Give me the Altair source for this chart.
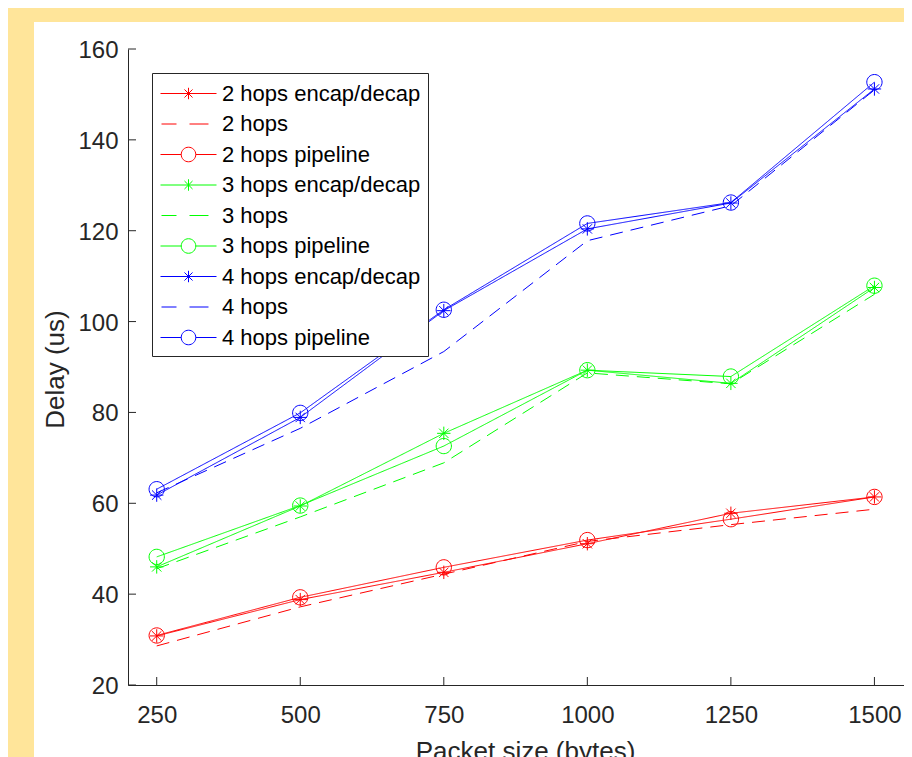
import altair as alt
import pandas as pd

# ---------------- data ----------------
packet_sizes = [250, 500, 750, 1000, 1250, 1500]
y_ticks = [20, 40, 60, 80, 100, 120, 140, 160]

series_names = [
    "2 hops encap/decap", "2 hops", "2 hops pipeline",
    "3 hops encap/decap", "3 hops", "3 hops pipeline",
    "4 hops encap/decap", "4 hops", "4 hops pipeline",
]
series_kind = ["encap", "plain", "pipeline"] * 3

hops2_encap = [30.8, 38.8, 44.8, 51.1, 57.8, 61.4]
hops2_plain = [28.6, 37.2, 44.4, 51.6, 55.3, 58.7]
hops2_pipe = [30.9, 39.3, 45.9, 51.9, 56.5, 61.4]
hops3_encap = [46.0, 59.4, 75.4, 89.3, 86.4, 107.5]
hops3_plain = [45.6, 57.0, 68.9, 88.7, 86.3, 106.0]
hops3_pipe = [48.2, 59.5, 72.6, 89.3, 87.9, 107.9]
hops4_encap = [61.8, 78.9, 102.4, 120.4, 126.1, 151.2]
hops4_plain = [62.3, 76.5, 93.4, 117.8, 125.5, 151.0]
hops4_pipe = [63.1, 79.9, 102.6, 121.6, 126.2, 152.7]

series_values = [hops2_encap, hops2_plain, hops2_pipe,
                 hops3_encap, hops3_plain, hops3_pipe,
                 hops4_encap, hops4_plain, hops4_pipe]

rows = []
for name, kind, vals in zip(series_names, series_kind, series_values):
    for x, v in zip(packet_sizes, vals):
        rows.append({"series": name, "kind": kind, "size": x, "delay": v})
df = pd.DataFrame(rows)

# ---------------- styles ----------------
series_colors = ["#FF0000"] * 3 + ["#00FF00"] * 3 + ["#0000FF"] * 3
FONT = "Liberation Sans"
AX = "#262626"
W, H = 776, 636
TICK = 8

STAR = "M0,-0.67V0.67M-0.67,0H0.67M-0.47,-0.47L0.47,0.47M-0.47,0.47L0.47,-0.47"
CIRC = "M-0.765,0A0.765,0.765 0 1,0 0.765,0A0.765,0.765 0 1,0 -0.765,0"

# legend symbols (unit r = 13px)
L, R, M, a, d, c = -0.923, 3.385, 1.231, 0.44, 0.31, 0.56
LEG_ENCAP = (f"M{L},0H{R}M{M},{-a}V{a}M{M-d:.3f},{-d}L{M+d:.3f},{d}"
             f"M{M-d:.3f},{d}L{M+d:.3f},{-d}")
LEG_PLAIN = "M-0.846,0H0.308M1.308,0H2.769"
LEG_PIPE = (f"M{L},0H{M-c:.3f}M{M+c:.3f},0H{R}"
            f"M{M-c:.3f},0A{c},{c} 0 1,0 {M+c:.3f},0A{c},{c} 0 1,0 {M-c:.3f},0")
legend_paths = [LEG_ENCAP, LEG_PLAIN, LEG_PIPE] * 3

x_scale = alt.Scale(domain=[200, 1551.5], nice=False, zero=False)
y_scale = alt.Scale(domain=[20, 160], nice=False, zero=False)
color_scale = alt.Scale(domain=series_names, range=series_colors)
shape_scale = alt.Scale(domain=series_names, range=legend_paths)

x_enc = alt.X(
    "size:Q", scale=x_scale,
    axis=alt.Axis(values=packet_sizes, format="d", title="Packet size (bytes)", grid=False,
                  ticks=False, labelPadding=18, zindex=1,
                  titleX=397, titleY=53, titleBaseline="top"),
)
y_enc = alt.Y(
    "delay:Q", scale=y_scale,
    axis=alt.Axis(values=y_ticks, title="Delay (us)", grid=False,
                  ticks=False, labelPadding=10, labelOffset=1.5, zindex=1,
                  titleX=-73, titleY=320, titleBaseline="middle"),
)
leg = alt.Legend(title=None, zindex=1)
color_enc = alt.Color("series:N", scale=color_scale, legend=leg)

panel = alt.Chart(pd.DataFrame({"k": [0]})).mark_rect(color="white").encode(
    x=alt.value(-94), x2=alt.value(W + 20), y=alt.value(-27), y2=alt.value(H + 120)
)

# inward-pointing ticks, placed through the axes' own scales
xticks = alt.Chart(pd.DataFrame({"size": packet_sizes})).mark_rule(
    color=AX, strokeWidth=1
).encode(x=x_enc, y=alt.value(H), y2=alt.value(H - TICK))
yticks = alt.Chart(pd.DataFrame({"delay": y_ticks})).mark_rule(
    color=AX, strokeWidth=1
).encode(y=y_enc, x=alt.value(0), x2=alt.value(TICK))

lines = alt.Chart(df).mark_line(strokeWidth=1).encode(
    x=x_enc, y=y_enc,
    color=color_enc,
    strokeDash=alt.StrokeDash("kind:N",
                              scale=alt.Scale(domain=["encap", "plain", "pipeline"],
                                              range=[[1, 0], [13, 8], [1, 0]]),
                              legend=None),
)

stars = alt.Chart(df).transform_filter(alt.datum.kind == "encap").mark_point(
    shape=STAR, size=400, filled=False, strokeWidth=1, opacity=1
).encode(x=x_enc, y=y_enc, color=color_enc)

circles = alt.Chart(df).transform_filter(alt.datum.kind == "pipeline").mark_point(
    shape=CIRC, size=400, filled=False, strokeWidth=1, opacity=1
).encode(x=x_enc, y=y_enc, color=color_enc)

legend_layer = alt.Chart(df).transform_filter("false").mark_point(
    filled=False, strokeWidth=1, opacity=1
).encode(
    x=x_enc, y=y_enc,
    color=color_enc,
    shape=alt.Shape("series:N", scale=shape_scale, legend=leg),
)

chart = alt.layer(panel, xticks, yticks, lines, stars, circles, legend_layer).properties(
    width=W, height=H,
    autosize=alt.AutoSizeParams(type="none"),
    padding={"left": 120, "top": 41, "right": 0, "bottom": 72},
    background="#FFE59A",
).configure_view(stroke=None).configure_axis(
    domainColor=AX, domainWidth=1,
    labelFont=FONT, labelFontSize=24, labelColor=AX,
    titleFont=FONT, titleFontSize=26, titleFontWeight="normal", titleColor=AX,
).configure_legend(
    orient="none", legendX=24, legendY=24,
    fillColor="white", strokeColor=AX, padding=7, rowPadding=5.5,
    symbolSize=676, symbolStrokeWidth=1, symbolFillColor="transparent",
    symbolType="circle",
    labelOffset=36, labelFont=FONT, labelFontSize=22, labelColor="black",
    labelLimit=400,
)

chart.save("out.html", embed_options={"renderer": "svg", "actions": False})
